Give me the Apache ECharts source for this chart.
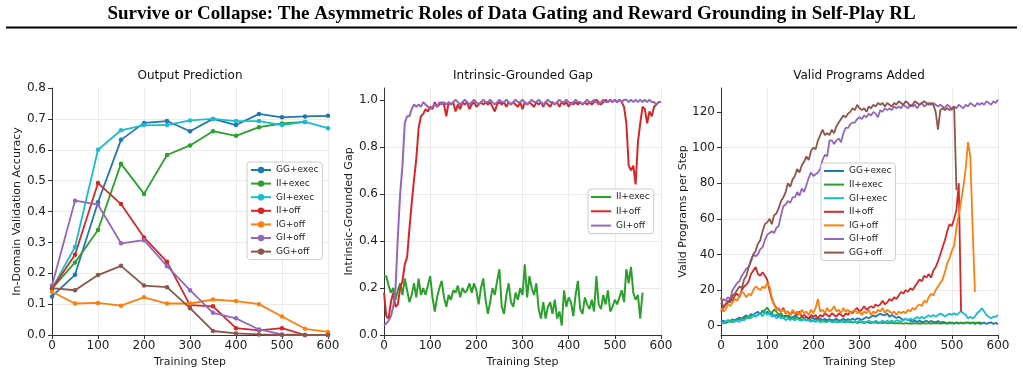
<!DOCTYPE html>
<html>
<head>
<meta charset="utf-8">
<title>Survive or Collapse</title>
<script src="https://cdn.jsdelivr.net/npm/echarts@6/dist/echarts.min.js"></script>
<style>
  html, body { margin: 0; padding: 0; background: #fff; }
  #chart { width: 1023px; height: 391px; }
</style>
</head>
<body>
<div id="chart"></div>
<script>
// ---------- data ----------
// panel 1: eval checkpoints every 50 steps
const checkpointSteps = [0, 50, 100, 150, 200, 250, 300, 350, 400, 450, 500, 550, 600];
const accGGexec = [0.125, 0.195, 0.43, 0.632, 0.687, 0.693, 0.66, 0.70, 0.68, 0.716, 0.705, 0.708, 0.71];
const accIIexec = [0.15, 0.235, 0.34, 0.555, 0.457, 0.583, 0.614, 0.66, 0.645, 0.673, 0.685, 0.69];
const accGIexec = [0.15, 0.285, 0.60, 0.663, 0.68, 0.68, 0.695, 0.70, 0.693, 0.693, 0.68, 0.69, 0.67];
const accIIoff  = [0.15, 0.26, 0.492, 0.424, 0.316, 0.237, 0.097, 0.093, 0.022, 0.015, 0.022, 0.0, 0.0];
const accIGoff  = [0.14, 0.102, 0.104, 0.095, 0.122, 0.102, 0.102, 0.115, 0.11, 0.10, 0.06, 0.02, 0.01];
const accGIoff  = [0.16, 0.435, 0.422, 0.297, 0.307, 0.223, 0.145, 0.072, 0.054, 0.018, 0.002, 0.0, 0.0];
const accGGoff  = [0.152, 0.145, 0.194, 0.224, 0.16, 0.155, 0.087, 0.013, 0.005, 0.002, 0.0, 0.0, 0.0];

// panels 2 & 3: logged every 5 steps (0, 5, 10, ... 600)
const fineSteps = Array.from({ length: 121 }, (_, i) => i * 5);

const gapIIexec = [
  0.25, 0.25, 0.21, 0.18, 0.20, 0.15, 0.19, 0.22, 0.17, 0.24,
  0.19, 0.14, 0.17, 0.22, 0.16, 0.24, 0.17, 0.20, 0.17, 0.21,
  0.25, 0.16, 0.10, 0.16, 0.20, 0.23, 0.16, 0.12, 0.17, 0.15,
  0.19, 0.18, 0.21, 0.16, 0.20, 0.18, 0.19, 0.22, 0.18, 0.22,
  0.19, 0.13, 0.20, 0.24, 0.15, 0.09, 0.14, 0.20, 0.17, 0.23,
  0.28, 0.12, 0.09, 0.17, 0.22, 0.14, 0.12, 0.18, 0.15, 0.20,
  0.17, 0.30, 0.16, 0.25, 0.20, 0.17, 0.22, 0.11, 0.07, 0.14,
  0.07, 0.12, 0.14, 0.09, 0.15, 0.07, 0.10, 0.04, 0.19, 0.12,
  0.16, 0.14, 0.08, 0.17, 0.23, 0.11, 0.09, 0.16, 0.13, 0.11,
  0.15, 0.10, 0.25, 0.13, 0.11, 0.17, 0.13, 0.19, 0.10, 0.12,
  0.15, 0.13, 0.16, 0.19, 0.14, 0.28, 0.22, 0.29, 0.18, 0.15,
  0.17, 0.07, 0.18
];
const gapIIoff = [
  0.18, 0.08, 0.07, 0.14, 0.18, 0.12, 0.13, 0.20, 0.23, 0.30,
  0.33, 0.45, 0.56, 0.66, 0.75, 0.88, 0.93, 0.94, 0.96, 0.95,
  0.97, 0.96, 0.99, 0.97, 0.98, 0.99, 0.98, 0.93, 0.99, 0.98,
  0.99, 0.95, 0.98, 0.96, 0.99, 0.98, 0.99, 0.96, 0.98, 0.99,
  0.97, 0.98, 0.99, 0.98, 0.99, 0.98, 0.99, 0.97, 0.95, 0.98,
  0.99, 0.98, 0.99, 0.97, 0.99, 0.98, 0.99, 0.98, 0.97, 0.99,
  0.96, 0.99, 0.98, 0.99, 0.98, 0.97, 0.99, 0.98, 0.99, 0.97,
  0.99, 0.98, 0.97, 0.99, 0.98, 0.99, 0.97, 0.99, 0.98, 0.99,
  0.97, 0.99, 0.98, 0.99, 0.98, 0.99, 0.98, 0.99, 0.98, 0.99,
  0.98, 0.99, 1.00, 0.99, 0.98, 0.99, 1.00, 0.99, 1.00, 0.99,
  1.00, 0.99, 1.00, 0.99, 0.97, 0.90, 0.72, 0.70, 0.72, 0.64,
  0.82, 0.90, 0.97, 0.96, 0.90, 0.95, 0.93, 0.97, 0.98, 0.99,
  0.99
];
const gapGIoff = [
  0.04, 0.05, 0.06, 0.08, 0.12, 0.20, 0.42, 0.60, 0.72, 0.90,
  0.93, 0.93, 0.96, 0.98, 0.97, 0.98, 0.97, 0.99, 0.98, 0.97,
  0.96, 0.97, 0.98, 0.97, 0.99, 0.98, 0.99, 0.98, 0.99, 0.98,
  0.99, 1.00, 0.99, 0.98, 0.99, 1.00, 0.99, 0.98, 0.99, 1.00,
  0.99, 0.98, 0.99, 1.00, 0.99, 0.99, 1.00, 0.99, 0.98, 0.99,
  1.00, 0.99, 0.99, 1.00, 0.99, 0.98, 0.99, 1.00, 0.99, 0.99,
  1.00, 0.99, 0.98, 0.99, 1.00, 0.99, 0.99, 1.00, 0.99, 0.98,
  0.99, 1.00, 0.99, 0.99, 0.98, 0.99, 1.00, 0.99, 0.99, 1.00,
  0.99, 0.98, 0.99, 1.00, 0.99, 0.99, 0.98, 0.99, 1.00, 0.99,
  0.99, 1.00, 0.99, 0.98, 0.99, 1.00, 0.99, 0.99, 1.00, 0.99,
  1.00, 0.99, 1.00, 0.99, 1.00, 1.00, 0.99, 1.00, 0.99, 1.00,
  0.99, 1.00, 0.99, 1.00, 0.99, 1.00, 0.99, 0.99, 0.98, 0.99,
  0.99
];

const progGGexec = [
  2.1, 2.8, 2.2, 3.1, 2.7, 3.6, 3.0, 3.9, 4.6, 4.0,
  5.1, 5.8, 5.0, 6.6, 6.0, 7.1, 7.8, 6.2, 8.6, 7.0,
  7.9, 6.3, 7.0, 5.2, 6.1, 5.0, 5.9, 4.2, 5.1, 5.8,
  4.9, 4.1, 5.7, 4.8, 4.0, 5.0, 4.1, 4.9, 3.9, 4.6,
  4.0, 4.3, 3.2, 4.0, 3.1, 3.9, 3.0, 3.8, 3.1, 3.3,
  3.9, 3.0, 3.2, 3.9, 3.0, 3.8, 3.1, 4.0, 3.2, 4.1,
  3.9, 3.2, 4.1, 4.9, 4.2, 5.0, 5.8, 5.1, 6.0, 6.7,
  6.1, 5.8, 6.8, 5.1, 6.0, 5.2, 4.3, 5.0, 4.1, 3.2,
  3.9, 3.1, 2.9, 2.2, 3.0, 2.1, 2.9, 2.0, 2.3, 2.8,
  2.0, 2.7, 2.1, 1.9, 2.6, 1.8, 2.2, 1.9, 1.2, 1.9,
  1.8, 1.2, 1.9, 1.1, 1.8, 1.2, 1.7, 1.9, 1.1, 1.8,
  1.0, 1.7, 1.1, 1.2, 1.8, 1.0, 1.6, 1.9, 1.0, 1.7,
  0.9
];
const progIIexec = [
  2.0, 2.2, 1.4, 2.1, 2.8, 2.0, 2.9, 3.1, 3.8, 3.0,
  4.0, 4.9, 4.1, 5.0, 5.9, 5.1, 6.1, 6.9, 7.9, 8.8,
  10.2, 8.1, 7.0, 9.1, 8.0, 6.2, 7.1, 5.0, 5.9, 4.8,
  4.1, 5.0, 3.9, 4.8, 4.0, 3.1, 4.0, 2.9, 3.8, 3.0,
  2.8, 3.7, 2.9, 3.1, 2.2, 3.0, 2.1, 2.9, 2.0, 2.7,
  2.1, 2.0, 2.8, 2.1, 1.9, 2.6, 2.0, 1.8, 2.2, 1.5,
  2.0, 1.9, 1.5, 2.0, 1.8, 1.4, 1.9, 1.8, 1.4, 1.7,
  1.5, 1.8, 1.4, 1.5, 1.7, 1.3, 1.5, 1.4, 1.5, 1.2,
  1.5, 1.2, 1.4, 1.2, 1.5, 1.2, 1.4, 1.2, 1.5, 1.2,
  1.5, 1.2, 1.5, 1.3, 1.5, 1.2, 1.5, 1.3, 1.5, 1.4,
  1.5, 1.4, 1.6, 1.5, 1.7, 1.5, 1.7, 1.6, 1.8, 1.7,
  1.8, 1.7, 1.9, 1.6
];
const progGIexec = [
  2.0, 1.2, 2.1, 2.9, 2.0, 3.1, 2.2, 3.0, 2.1, 3.8,
  3.0, 4.1, 5.0, 4.2, 6.0, 5.1, 6.2, 7.1, 5.2, 7.8,
  6.1, 7.0, 5.1, 6.0, 4.2, 5.1, 4.0, 4.9, 3.1, 4.0,
  3.2, 3.9, 3.0, 4.0, 3.1, 2.8, 3.7, 2.9, 3.1, 2.2,
  3.0, 2.1, 2.9, 2.0, 2.8, 2.1, 2.2, 2.9, 2.0, 2.1,
  2.8, 2.0, 2.2, 2.9, 2.1, 2.0, 2.7, 2.1, 2.0, 2.2,
  2.8, 2.1, 2.0, 2.2, 2.9, 2.1, 2.0, 2.8, 2.2, 2.0,
  2.9, 2.1, 2.8, 2.2, 2.9, 2.1, 3.0, 2.8, 2.2, 3.1,
  3.9, 3.1, 4.0, 3.2, 4.1, 4.9, 4.0, 5.0, 4.1, 5.1,
  5.9, 5.0, 6.1, 5.1, 6.0, 6.9, 6.1, 5.2, 6.0, 6.8,
  6.1, 7.0, 6.0, 7.1, 8.2, 7.0, 6.1, 4.2, 5.1, 4.1,
  5.0, 7.1, 8.1, 9.8, 8.0, 6.0, 5.0, 4.2, 5.1, 5.0,
  6.0
];
const progIIoff = [
  8, 10, 12, 13, 15, 14, 17, 18, 16, 20,
  22, 23, 25, 29, 31, 33, 29, 28, 30, 28,
  26, 20, 15, 12, 10, 9, 8, 10, 7, 8,
  6, 8, 7, 6, 8, 5, 6, 5, 4, 6,
  5, 6, 4, 6, 5, 7, 6, 5, 7, 6,
  5, 7, 6, 5, 7, 6, 8, 7, 9, 10,
  8, 9, 11, 9, 10, 11, 10, 12, 11, 12,
  14, 12, 13, 15, 14, 16, 15, 17, 19, 18,
  20, 19, 21, 20, 22, 24, 26, 25, 28, 27,
  29, 27, 31, 33, 36, 40, 44, 48, 53, 57,
  56, 60, 65, 80, 8
];
const progIGoff = [
  10, 8, 9, 12, 11, 13, 15, 14, 17, 19,
  18, 16, 18, 17, 20, 22, 21, 20, 22, 21,
  24, 22, 16, 12, 9, 10, 8, 9, 7, 8,
  6, 9, 7, 8, 6, 9, 7, 8, 6, 9,
  7, 10, 15, 8, 9, 7, 10, 8, 9, 11,
  8, 9, 7, 10, 8, 9, 7, 8, 9, 7,
  8, 6, 8, 7, 9, 6, 8, 7, 9, 8,
  10, 7, 9, 8, 7, 8, 6, 8, 7, 8,
  7, 9, 8, 10, 9, 11, 12, 11, 14, 13,
  16, 18, 17, 20, 22, 24, 26, 30, 35, 38,
  42, 45, 55, 62, 70, 78, 88, 103, 95, 55,
  19
];
const progGIoff = [
  12, 15, 14, 16, 15, 20, 22, 24, 25, 28,
  30, 32, 33, 36, 40, 39, 40, 43, 44, 48,
  51, 52, 53, 52, 55, 56, 62, 67, 68, 70,
  69, 72, 72, 75, 73, 77, 75, 79, 83, 86,
  84, 85, 86, 88, 93, 96, 95, 104, 104, 102,
  104, 105, 103, 108, 111, 111, 113, 114, 114, 116,
  117, 116, 118, 117, 119, 118, 120, 119, 117, 121,
  120, 122, 121, 122, 121, 123, 122, 123, 122, 124,
  123, 122, 124, 123, 124, 122, 124, 125, 123, 124,
  125, 124, 125, 124, 123, 124, 123, 122, 124, 123,
  121, 123, 122, 124, 123, 122, 124, 123, 125, 124,
  123, 125, 124, 125, 124, 126, 125, 124, 126, 125,
  127
];
const progGGoff = [
  16, 10, 12, 14, 13, 17, 18, 20, 22, 21,
  26, 28, 33, 37, 40, 42, 46, 48, 53, 57,
  58, 60, 57, 62, 63, 66, 70, 72, 75, 80,
  78, 82, 84, 88, 86, 90, 92, 95, 93, 98,
  100, 99, 104, 107, 110, 107, 108, 107, 110, 108,
  112, 114, 116, 118, 117, 119, 120, 122, 121, 124,
  122, 121, 122, 120, 123, 122, 124, 123, 125, 124,
  125, 123, 125, 124, 123, 125, 124, 126, 125, 124,
  126, 125, 123, 124, 126, 125, 124, 125, 126, 125,
  124, 125, 124, 120, 110, 121, 122, 121, 122, 121,
  122, 123, 76
];

const accTicks = [0, 0.1, 0.2, 0.3, 0.4, 0.5, 0.6, 0.7, 0.8];
const gapTicks = [0, 0.2, 0.4, 0.6, 0.8, 1.0];
const progTicks = [0, 20, 40, 60, 80, 100, 120];

// ---------- styling ----------
const FONT = 'DejaVu Sans';
const COLORS = {
  'GG+exec': '#1f77b4', 'II+exec': '#2ca02c', 'GI+exec': '#17becf',
  'II+off': '#d62728', 'IG+off': '#ff7f0e', 'GI+off': '#9467bd', 'GG+off': '#8c564b'
};

function zip(xs, ys) {
  return ys.map((v, i) => [xs[i], v]);
}

function xAxisFor(gridIndex) {
  return {
    type: 'value', gridIndex: gridIndex, min: 0, max: 600, interval: 100,
    name: 'Training Step', nameLocation: 'middle', nameGap: 19,
    nameTextStyle: { fontSize: 11, color: '#1a1a1a', fontFamily: FONT },
    axisLine: { onZero: false, lineStyle: { color: '#333', width: 1 } },
    axisTick: { show: true, length: 4, lineStyle: { color: '#333' } },
    axisLabel: { fontSize: 12, color: '#222', margin: 5, fontFamily: FONT },
    splitLine: { show: true, lineStyle: { color: '#ebebeb', width: 1 } }
  };
}

function yAxisFor(gridIndex, name, min, max, ticks, fmt, nameGap) {
  return {
    type: 'value', gridIndex: gridIndex, min: min, max: max,
    splitNumber: 7,
    name: name, nameLocation: 'middle', nameGap: nameGap,
    nameTextStyle: { fontSize: 11, color: '#1a1a1a', fontFamily: FONT },
    axisLine: { show: true, onZero: false, lineStyle: { color: '#333', width: 1 } },
    axisTick: { show: true, length: 4, customValues: ticks, lineStyle: { color: '#333' } },
    axisLabel: { fontSize: 12, color: '#222', margin: 6, fontFamily: FONT,
                 customValues: ticks, formatter: fmt },
    splitLine: { show: true, showMinLine: false, showMaxLine: false,
                 lineStyle: { color: '#ebebeb', width: 1 } }
  };
}

function markerLine(name, ys) {
  return {
    name: name, type: 'line', xAxisIndex: 0, yAxisIndex: 0,
    data: zip(checkpointSteps, ys),
    symbol: 'circle', symbolSize: 4.5,
    lineStyle: { width: 1.8, color: COLORS[name] },
    itemStyle: { color: COLORS[name] },
    emphasis: { disabled: true }
  };
}

function plainLine(name, tag, idx, ys, width) {
  return {
    name: name + '|' + tag, type: 'line', xAxisIndex: idx, yAxisIndex: idx,
    data: zip(fineSteps, ys),
    symbol: 'none',
    lineStyle: { width: width, color: COLORS[name] },
    itemStyle: { color: COLORS[name] },
    emphasis: { disabled: true }
  };
}

function legendFor(names, left, top, gap, plain) {
  const lg = {
    orient: 'vertical', left: left, top: top,
    data: names,
    formatter: n => n.split('|')[0],
    itemWidth: 20, itemHeight: 8, itemGap: gap,
    padding: [3, 4, 3, 3],
    backgroundColor: 'rgba(255,255,255,0.85)',
    borderColor: '#cccccc', borderWidth: 1, borderRadius: 3,
    textStyle: { fontSize: 9, color: '#222', fontFamily: FONT, lineHeight: 10 },
    selectedMode: false
  };
  if (plain) {
    // line-only swatches for the un-marked panels
    lg.icon = 'rect';
    lg.itemHeight = 2;
    lg.itemWidth = 20;
  }
  return lg;
}

const subTitle = (text, x) => ({
  text: text, left: x, top: 70, textAlign: 'center', padding: 0,
  textStyle: { fontSize: 12, fontWeight: 'normal', color: '#111', fontFamily: FONT }
});

const chart = echarts.init(document.getElementById('chart'), null, { renderer: 'canvas' });

const option = {
  animation: false,
  backgroundColor: '#ffffff',
  title: [
    {
      text: 'Survive or Collapse: The Asymmetric Roles of Data Gating and Reward Grounding in Self-Play RL',
      left: 'center', top: 5, padding: 0,
      textStyle: { fontSize: 19, fontWeight: 'bold', color: '#000', fontFamily: 'Liberation Serif' }
    },
    subTitle('Output Prediction', 190),
    subTitle('Intrinsic-Grounded Gap', 523),
    subTitle('Valid Programs Added', 859)
  ],
  graphic: [{
    type: 'line', shape: { x1: 6, y1: 27.5, x2: 1017, y2: 27.5 },
    style: { stroke: '#000', lineWidth: 2 }
  }],
  grid: [
    { left: 52, top: 88, width: 276, height: 247, outerBoundsMode: 'none' },
    { left: 384, top: 88, width: 277, height: 247, outerBoundsMode: 'none' },
    { left: 721, top: 88, width: 277, height: 247, outerBoundsMode: 'none' }
  ],
  xAxis: [xAxisFor(0), xAxisFor(1), xAxisFor(2)],
  yAxis: [
    yAxisFor(0, 'In-Domain Validation Accuracy', 0, 0.8, accTicks, v => v.toFixed(1), 25),
    yAxisFor(1, 'Intrinsic-Grounded Gap', 0, 1.05, gapTicks, v => v.toFixed(1), 25),
    yAxisFor(2, 'Valid Programs per Step', -5.2, 133.4, progTicks, v => String(v), 31)
  ],
  legend: [
    legendFor(['GG+exec', 'II+exec', 'GI+exec', 'II+off', 'IG+off', 'GI+off', 'GG+off'], 247, 162, 3.6, false),
    legendFor(['II+exec|gap', 'II+off|gap', 'GI+off|gap'], 588, 189, 4.3, true),
    legendFor(['GG+exec|prog', 'II+exec|prog', 'GI+exec|prog', 'II+off|prog', 'IG+off|prog', 'GI+off|prog', 'GG+off|prog'], 821, 163, 3.6, true)
  ],
  series: [
    markerLine('GG+exec', accGGexec),
    markerLine('II+exec', accIIexec),
    markerLine('GI+exec', accGIexec),
    markerLine('II+off', accIIoff),
    markerLine('IG+off', accIGoff),
    markerLine('GI+off', accGIoff),
    markerLine('GG+off', accGGoff),

    plainLine('II+exec', 'gap', 1, gapIIexec, 2),
    plainLine('II+off', 'gap', 1, gapIIoff, 2),
    plainLine('GI+off', 'gap', 1, gapGIoff, 2),

    plainLine('GG+exec', 'prog', 2, progGGexec, 1.8),
    plainLine('II+exec', 'prog', 2, progIIexec, 1.8),
    plainLine('GI+exec', 'prog', 2, progGIexec, 1.8),
    plainLine('II+off', 'prog', 2, progIIoff, 1.8),
    plainLine('IG+off', 'prog', 2, progIGoff, 1.8),
    plainLine('GI+off', 'prog', 2, progGIoff, 1.8),
    plainLine('GG+off', 'prog', 2, progGGoff, 1.8)
  ]
};

chart.setOption(option);
window.addEventListener('resize', function () { chart.resize(); });
</script>
</body>
</html>
